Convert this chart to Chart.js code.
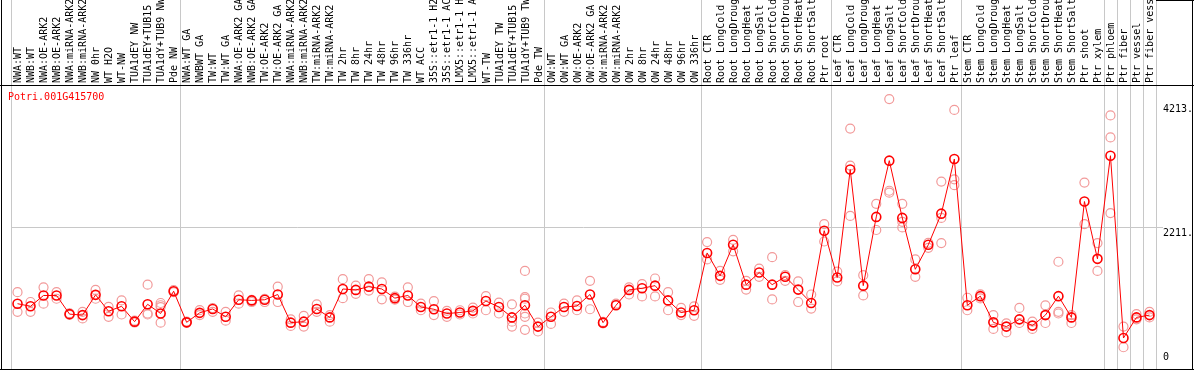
<!DOCTYPE html>
<html>
<head>
<meta charset="utf-8">
<script src="https://cdn.jsdelivr.net/npm/chart.js@4"></script>
<style>
  html, body { margin: 0; padding: 0; background: #fff; }
</style>
</head>
<body>
<canvas id="exprChart" width="1194" height="370"></canvas>
<script>
const geneId = 'Potri.001G415700';

const samples = [
    'NWA:WT', 'NWB:WT', 'NWA:OE-ARK2', 'NWB:OE-ARK2', 'NWA:miRNA-ARK2', 'NWB:miRNA-ARK2', 'NW 0hr', 'WT H2O', 'WT-NW',
    'TUA1dEY NW', 'TUA1dEY+TUB15 NW', 'TUA1dY+TUB9 NW', 'Pde NW',
    'NWA:WT GA', 'NWBWT GA', 'TW:WT', 'TW:WT GA', 'NWA:OE-ARK2 GA', 'NWB:OE-ARK2 GA', 'TW:OE-ARK2', 'TW:OE-ARK2 GA',
    'NWA:miRNA-ARK2', 'NWB:miRNA-ARK2', 'TW:miRNA-ARK2', 'TW:miRNA-ARK2', 'TW 2hr', 'TW 8hr', 'TW 24hr', 'TW 48hr',
    'TW 96hr', 'TW 336hr', 'WT ACC', '35S::etr1-1 H2O', '35S::etr1-1 ACC', 'LMX5::etr1-1 H2O', 'LMX5::etr1-1 ACC',
    'WT-TW', 'TUA1dEY TW', 'TUA1dEY+TUB15 TW', 'TUA1dY+TUB9 TW', 'Pde TW',
    'OW:WT', 'OW:WT GA', 'OW:OE-ARK2', 'OW:OE-ARK2 GA', 'OW:miRNA-ARK2', 'OW:miRNA-ARK2', 'OW 2hr', 'OW 8hr',
    'OW 24hr', 'OW 48hr', 'OW 96hr', 'OW 336hr',
    'Root CTR', 'Root LongCold', 'Root LongDrought', 'Root LongHeat', 'Root LongSalt', 'Root ShortCold',
    'Root ShortDrought', 'Root ShortHeat', 'Root ShortSalt', 'Ptr root',
    'Leaf CTR', 'Leaf LongCold', 'Leaf LongDrought', 'Leaf LongHeat', 'Leaf LongSalt', 'Leaf ShortCold',
    'Leaf ShortDrought', 'Leaf ShortHeat', 'Leaf ShortSalt', 'Ptr leaf',
    'Stem CTR', 'Stem LongCold', 'Stem LongDrought', 'Stem LongHeat', 'Stem LongSalt', 'Stem ShortCold',
    'Stem ShortDrought', 'Stem ShortHeat', 'Stem ShortSalt', 'Ptr shoot', 'Ptr xylem',
    'Ptr phloem', 'Ptr fiber', 'Ptr vessel', 'Ptr fiber vessel'
];

// number of samples in each block between the grey separators
const groupSizes = [13, 28, 12, 10, 10, 11, 1, 1, 1, 1];

const means = [
    975, 933, 1108, 1108, 806, 790, 1118, 853, 933, 684, 965, 816, 1177,
    673, 827, 890, 763, 1039, 1028, 1039, 1124, 668, 684, 890, 753, 1213, 1198, 1251, 1213,
    1065, 1108, 922, 885, 816, 832, 859, 1018, 922, 753, 949, 604,
    763, 922, 938, 1124, 668, 949, 1198, 1224, 1267, 1028, 832, 869,
    1797, 1426, 1929, 1283, 1479, 1283, 1410, 1203, 986, 2157,
    1399, 3148, 1267, 2380, 3291, 2364, 1532, 1929, 2433, 3318,
    949, 1097, 673, 604, 721, 620, 790, 1097, 753, 2629, 1701,
    3371, 419, 753, 790
];

const replicates = [
    [1161, 843], [1002, 843], [1240, 975], [1161, 1055], [820, 795], [843, 736], [1198, 1055], [922, 763], [1028, 800],
    [700, 670], [1283, 816, 800], [986, 950, 920, 668], [1195, 1160],
    [685, 665], [870, 790], [905, 843], [843, 700], [1108, 975], [1039, 1002], [1055, 1002], [1251, 1002],
    [721, 615], [779, 604], [965, 843], [790, 684], [1372, 1065], [1267, 1134], [1372, 1187], [1320, 1045],
    [1090, 1040], [1240, 1002], [975, 869], [1018, 790], [859, 763], [869, 800], [912, 816],
    [1097, 869], [991, 816], [965, 684, 604], [1505, 1081, 1055, 816, 763, 551], [668, 525],
    [832, 647], [975, 843], [1028, 869], [1346, 885], [680, 655], [975, 960], [1240, 1124], [1293, 1092],
    [1383, 1092], [1161, 869], [906, 790], [933, 779],
    [1972, 1691], [1505, 1362], [2009, 1823], [1346, 1203], [1542, 1410], [1728, 1044],
    [1436, 1346], [1336, 1002], [1124, 896], [2263, 1982],
    [1495, 1336], [3811, 3212, 2396], [1436, 1108], [2592, 2168], [4288, 2804, 2772], [2592, 2300, 2210],
    [1691, 1410], [1960, 1880], [2952, 2364, 1956], [4113, 2989, 2894],
    [1071, 869], [1125, 1060], [790, 567], [657, 509], [906, 662], [684, 567],
    [949, 662], [1654, 843, 816], [790, 662], [2936, 2263], [1956, 1505],
    [4023, 3668, 2443], [604, 270], [806, 721], [843, 753]
];

const yTicks = [0, 2211, 4213];
const yTickLabels = ['0', '2211.', '4213.'];
const yMax = 4500;

Chart.defaults.font.family = '"DejaVu Sans Mono", monospace';
Chart.defaults.font.size = 10;

// one point series per replicate slot
const maxReps = Math.max(...replicates.map(r => r.length));
const repDatasets = [];
for (let k = 0; k < maxReps; k++) {
    repDatasets.push({
        label: 'rep ' + (k + 1),
        data: replicates.map(r => (r[k] === undefined ? null : r[k])),
        showLine: false,
        pointRadius: 4.5,
        pointBorderWidth: 1.2,
        pointBorderColor: '#f29a9a',
        pointBackgroundColor: 'rgba(0,0,0,0)',
        order: 1
    });
}

const frame = {
    id: 'frame',
    beforeDatasetsDraw(chart) {
        const ctx = chart.ctx;
        const x = chart.scales.x;
        const step = x.getPixelForValue(1) - x.getPixelForValue(0);
        ctx.save();
        ctx.fillStyle = '#c8c8c8';
        let k = 0;
        const edges = [0];
        groupSizes.forEach(n => { k += n; edges.push(k); });
        edges.forEach(e => {
            const px = Math.round(x.getPixelForValue(e) - step / 2);
            ctx.fillRect(px, 0, 1, chart.height);
        });
        ctx.restore();
    },
    afterDraw(chart) {
        const ctx = chart.ctx;
        const area = chart.chartArea;
        const y = chart.scales.y;
        ctx.save();
        ctx.fillStyle = '#000';
        ctx.fillRect(0, area.top - 1, chart.width, 1);       // header line
        ctx.fillRect(1, 0, 1, chart.height);                 // left border
        ctx.fillRect(chart.width - 2, 0, 1, chart.height);   // right border
        ctx.fillRect(0, chart.height - 1, chart.width, 1);   // bottom border
        ctx.fillRect(area.right, 0, chart.width - area.right, 1);

        ctx.font = '10px "DejaVu Sans Mono", monospace';
        ctx.textAlign = 'left';
        yTicks.forEach((v, i) => {
            const py = y.getPixelForValue(v);
            if (py + 12 > area.bottom) {
                ctx.textBaseline = 'bottom';
                ctx.fillText(yTickLabels[i], area.right + 7, area.bottom - 1);
            } else {
                ctx.textBaseline = 'top';
                ctx.fillText(yTickLabels[i], area.right + 7, py + 1);
            }
        });

        ctx.fillStyle = '#ff0000';
        ctx.textBaseline = 'top';
        ctx.fillText(geneId, 8, area.top + 6);
        ctx.restore();
    }
};

const exprChart = new Chart(document.getElementById('exprChart'), {
    type: 'line',
    data: {
        labels: samples,
        datasets: [{
            label: 'mean',
            data: means,
            borderColor: '#ff0000',
            borderWidth: 1,
            tension: 0,
            pointRadius: 4.5,
            pointBorderWidth: 1.6,
            pointBorderColor: '#ff0000',
            pointBackgroundColor: 'rgba(0,0,0,0)',
            order: 0
        }, ...repDatasets]
    },
    options: {
        responsive: false,
        animation: false,
        layout: { padding: { left: 11, bottom: 2, top: 0, right: 0 } },
        plugins: { legend: { display: false }, tooltip: { enabled: false } },
        scales: {
            x: {
                type: 'category',
                position: 'top',
                offset: true,
                grid: { display: false, drawTicks: false },
                border: { display: false },
                ticks: {
                    autoSkip: false,
                    minRotation: 90,
                    maxRotation: 90,
                    padding: 3,
                    labelOffset: 13,
                    color: '#000'
                },
                afterFit: s => { s.height = 86; }
            },
            y: {
                position: 'right',
                min: 0,
                max: yMax,
                afterBuildTicks: s => { s.ticks = yTicks.map(v => ({ value: v })); },
                ticks: { display: false },
                grid: {
                    color: c => (c.index === 1 ? '#c8c8c8' : 'rgba(0,0,0,0)'),
                    tickLength: 7
                },
                border: { display: false },
                afterFit: s => { s.width = 38; }
            }
        }
    },
    plugins: [frame]
});
</script>
</body>
</html>
